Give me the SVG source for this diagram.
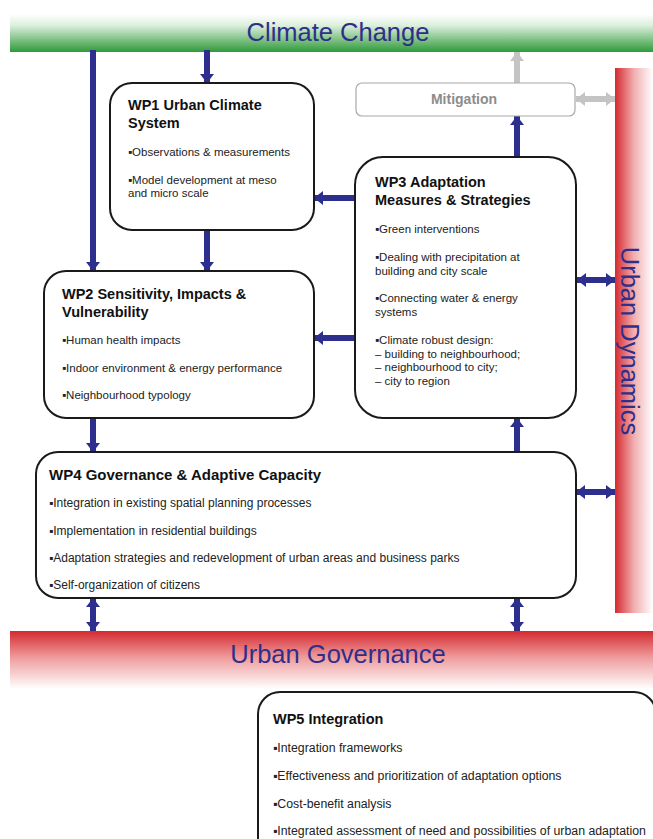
<svg xmlns="http://www.w3.org/2000/svg" width="653" height="839" viewBox="0 0 653 839">
<defs>
<linearGradient id="gGreen" x1="0" y1="0" x2="0" y2="1">
<stop offset="0" stop-color="#ffffff"/>
<stop offset="0.3" stop-color="#dcefdc"/>
<stop offset="1" stop-color="#2f9a3a"/>
</linearGradient>
<linearGradient id="gRedH" x1="0" y1="0" x2="0" y2="1">
<stop offset="0" stop-color="#d42a2f"/>
<stop offset="0.45" stop-color="#ef9a9c"/>
<stop offset="1" stop-color="#ffffff"/>
</linearGradient>
<linearGradient id="gRedV" x1="0" y1="0" x2="1" y2="0">
<stop offset="0" stop-color="#d42a2f"/>
<stop offset="0.5" stop-color="#f2aeb0"/>
<stop offset="1" stop-color="#ffffff"/>
</linearGradient>
<marker id="ah" viewBox="0 0 9 14" refX="9" refY="7" markerWidth="9" markerHeight="14" markerUnits="userSpaceOnUse" orient="auto-start-reverse">
<path d="M0,0 L9,7 L0,14 z" fill="#2d2f8f"/>
</marker>
<marker id="ahg" viewBox="0 0 9 14" refX="9" refY="7" markerWidth="9" markerHeight="14" markerUnits="userSpaceOnUse" orient="auto-start-reverse">
<path d="M0,0 L9,7 L0,14 z" fill="#c4c4c4"/>
</marker>
</defs>
<style>
.box{fill:#ffffff;stroke:#1a1a1a;stroke-width:2}
.t{font-family:"Liberation Sans",Arial,sans-serif;font-weight:bold;font-size:14.5px;fill:#111}
.b{font-family:"Liberation Sans",Arial,sans-serif;font-size:11.5px;fill:#222}
.b4{font-family:"Liberation Sans",Arial,sans-serif;font-size:12px;fill:#222}
.b5{font-family:"Liberation Sans",Arial,sans-serif;font-size:12.3px;fill:#222}
.bar{font-family:"Liberation Sans",Arial,sans-serif;font-size:25.5px;fill:#2e2f8a}
.a{stroke:#2d2f8f;stroke-width:6;fill:none}
.ag{stroke:#c4c4c4;stroke-width:6;fill:none}
</style>
<rect width="653" height="839" fill="#ffffff"/>

<g id="climate-change">
<rect x="10" y="14" width="643" height="38" fill="url(#gGreen)"/>
<text class="bar" x="338" y="41" text-anchor="middle">Climate Change</text>
</g>

<g id="urban-governance">
<rect x="10" y="631" width="643" height="58" fill="url(#gRedH)"/>
<text class="bar" x="338" y="663" text-anchor="middle">Urban Governance</text>
</g>

<g id="urban-dynamics">
<rect x="615" y="68" width="38" height="545" fill="url(#gRedV)"/>
<text class="bar" transform="translate(621,341) rotate(90)" text-anchor="middle">Urban Dynamics</text>
</g>

<g id="connectors">
<line class="a" x1="93" y1="50" x2="93" y2="271" marker-end="url(#ah)"/>
<line class="a" x1="207" y1="50" x2="207" y2="83" marker-end="url(#ah)"/>
<line class="a" x1="207" y1="230" x2="207" y2="271" marker-end="url(#ah)"/>
<line class="a" x1="356" y1="198" x2="314" y2="198" marker-end="url(#ah)"/>
<line class="a" x1="356" y1="338" x2="314" y2="338" marker-end="url(#ah)"/>
<line class="a" x1="517" y1="158" x2="517" y2="116" marker-end="url(#ah)"/>
<line class="ag" x1="517" y1="83" x2="517" y2="52" marker-end="url(#ahg)"/>
<line class="ag" x1="576" y1="99" x2="615" y2="99" marker-start="url(#ahg)" marker-end="url(#ahg)"/>
<line class="a" x1="577" y1="280" x2="615" y2="280" marker-start="url(#ah)" marker-end="url(#ah)"/>
<line class="a" x1="576" y1="492" x2="615" y2="492" marker-start="url(#ah)" marker-end="url(#ah)"/>
<line class="a" x1="93" y1="418" x2="93" y2="452" marker-end="url(#ah)"/>
<line class="a" x1="517" y1="452" x2="517" y2="418" marker-end="url(#ah)"/>
<line class="a" x1="93" y1="598" x2="93" y2="631" marker-start="url(#ah)" marker-end="url(#ah)"/>
<line class="a" x1="517" y1="598" x2="517" y2="631" marker-start="url(#ah)" marker-end="url(#ah)"/>
</g>

<g id="mitigation">
<rect x="356" y="83" width="219" height="33" rx="6" fill="#ffffff" stroke="#a8a8a8" stroke-width="1.2"/>
<text x="464" y="104" text-anchor="middle" font-family="Liberation Sans, Arial, sans-serif" font-weight="bold" font-size="14" fill="#8c8c8c">Mitigation</text>
</g>

<g id="wp1">
<rect class="box" x="110" y="83" width="204" height="147" rx="22"/>
<text class="t" x="128" y="110">WP1 Urban Climate</text>
<text class="t" x="128" y="128">System</text>
<text class="b" x="128" y="156">▪Observations &amp; measurements</text>
<text class="b" x="128" y="184">▪Model development at meso</text>
<text class="b" x="128" y="197">and micro scale</text>
</g>

<g id="wp2">
<rect class="box" x="44" y="271" width="270" height="147" rx="22"/>
<text class="t" x="62" y="299">WP2 Sensitivity, Impacts &amp;</text>
<text class="t" x="62" y="317">Vulnerability</text>
<text class="b" x="62" y="344">▪Human health impacts</text>
<text class="b" x="62" y="372">▪Indoor environment &amp; energy performance</text>
<text class="b" x="62" y="399">▪Neighbourhood typology</text>
</g>

<g id="wp3">
<rect class="box" x="355" y="157" width="221" height="261" rx="28"/>
<text class="t" x="375" y="187">WP3 Adaptation</text>
<text class="t" x="375" y="205">Measures &amp; Strategies</text>
<text class="b" x="375" y="233">▪Green interventions</text>
<text class="b" x="375" y="261">▪Dealing with precipitation at</text>
<text class="b" x="375" y="275">building and city scale</text>
<text class="b" x="375" y="302">▪Connecting water &amp; energy</text>
<text class="b" x="375" y="316">systems</text>
<text class="b" x="375" y="344">▪Climate robust design:</text>
<text class="b" x="375" y="358">– building to neighbourhood;</text>
<text class="b" x="375" y="371">– neighbourhood to city;</text>
<text class="b" x="375" y="385">– city to region</text>
</g>

<g id="wp4">
<rect class="box" x="36" y="452" width="540" height="146" rx="22"/>
<text class="t" x="49" y="480" style="font-size:15px">WP4 Governance &amp; Adaptive Capacity</text>
<text class="b4" x="49" y="507">▪Integration in existing spatial planning processes</text>
<text class="b4" x="49" y="535">▪Implementation in residential buildings</text>
<text class="b4" x="49" y="562">▪Adaptation strategies and redevelopment of urban areas and business parks</text>
<text class="b4" x="49" y="589">▪Self-organization of citizens</text>
</g>

<g id="wp5">
<rect class="box" x="258" y="692" width="398" height="170" rx="22"/>
<text class="t" x="273" y="724">WP5 Integration</text>
<text class="b5" x="273" y="752">▪Integration frameworks</text>
<text class="b5" x="273" y="780">▪Effectiveness and prioritization of adaptation options</text>
<text class="b5" x="273" y="808">▪Cost-benefit analysis</text>
<text class="b5" x="273" y="835">▪Integrated assessment of need and possibilities of urban adaptation</text>
</g>
</svg>
